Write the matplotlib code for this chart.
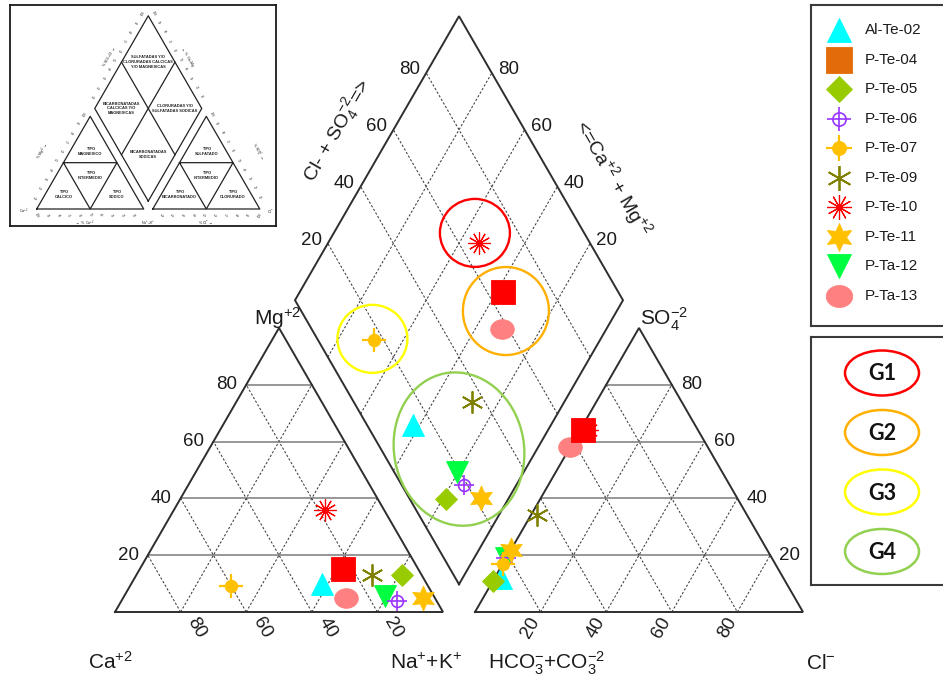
import numpy as np
import matplotlib
matplotlib.use("Agg")
import matplotlib.pyplot as plt
from matplotlib.patches import Ellipse

plt.rcParams['font.family'] = ['Liberation Sans', 'DejaVu Sans']
plt.rcParams['mathtext.fontset'] = 'custom'
plt.rcParams['mathtext.rm'] = 'Liberation Sans'
plt.rcParams['mathtext.it'] = 'Liberation Sans:italic'
plt.rcParams['mathtext.bf'] = 'Liberation Sans:bold'

# ---------------- data (meq %) ----------------
samples = ['Al-Te-02', 'P-Te-04', 'P-Te-05', 'P-Te-06', 'P-Te-07',
           'P-Te-09', 'P-Te-10', 'P-Te-11', 'P-Ta-12', 'P-Ta-13']
ca_pct = [32, 23, 6, 12, 60, 15, 18, 3.5, 15, 27]
mg_pct = [10, 15, 13, 4, 9, 13, 36, 5, 5.5, 5]
nak_pct = [58, 62, 81, 84, 31, 72, 46, 91.5, 79.5, 68]
cl_pct = [2, 1, 0, 0, 0, 2, 2, 0, 0, 0]
so4_pct = [12, 64, 11, 19, 17, 34, 64, 22, 19, 58]
hco3_pct = [86, 35, 89, 81, 83, 64, 34, 78, 81, 42]

# hydrochemical groups: centre given as (Cl+SO4 %, Ca+Mg %) in the diamond
group_names = ['G1', 'G2', 'G3', 'G4']
group_colors = ['#FF0000', '#FFB000', '#FFFF00', '#92D050']
group_anion = [66.7, 62.4, 16.8, 23.8]
group_cation = [57.0, 33.8, 69.6, 23.8]
group_width_px = [70, 86, 70, 130]
group_height_px = [68, 88, 68, 154]
group_angle = [0, 0, 0, 10]

tick_vals = [20, 40, 60, 80]

# ---------------- marker styles ----------------
theta = np.linspace(0, 2 * np.pi, 72)
ellipse_marker = np.column_stack([np.cos(theta), 0.83 * np.sin(theta)])


def solid(marker, ms, color, mew=0.6):
    return dict(marker=marker, ms=ms, mfc=color, mec=color, mew=mew)


def line_mk(marker, ms, color, mew):
    return dict(marker=marker, ms=ms, mfc='none', mec=color, mew=mew)


styles = {
    'Al-Te-02': [solid('^', 16, '#00FFFF')],
    'P-Te-04': [solid('s', 17, '#FF0000')],
    'P-Te-05': [solid('D', 11.5, '#99CC00')],
    'P-Te-06': [line_mk('o', 8.5, '#9933FF', 1.2), line_mk('+', 15, '#9933FF', 1.2)],
    'P-Te-07': [solid('o', 9, '#FFC000'), line_mk('+', 17, '#FFC000', 1.6)],
    'P-Te-09': [line_mk((6, 2, 0), 16, '#808000', 1.3)],
    'P-Te-10': [line_mk((12, 2, 0), 16, '#FF0000', 0.85)],
    'P-Te-11': [solid((6, 1, 0), 18, '#FFC000')],
    'P-Ta-12': [solid('v', 16, '#00FF40')],
    'P-Ta-13': [solid(ellipse_marker, 17, '#FF8080')],
}
legend_color_override = {'P-Te-04': '#E36C0A'}
draw_order = ['P-Ta-12', 'P-Ta-13', 'Al-Te-02', 'P-Te-04', 'P-Te-05',
              'P-Te-06', 'P-Te-07', 'P-Te-09', 'P-Te-10', 'P-Te-11']

# ---------------- geometry ----------------
W, H = 943, 675
S = 328.0                 # triangle side in pixels
X0, Y0 = 115.0, 612.0     # pixel position of the Ca+2 corner
PX = 1.0 / S
H3 = np.sqrt(3) / 2
GAP = 32.0 / S
OFF = 1 + GAP
BX, BY = 1 + GAP / 2, GAP * H3


def cat_xy(ca, mg, na):
    t = ca + mg + na
    return (na + 0.5 * mg) / t, H3 * mg / t


def an_xy(cl, so4, hco3):
    t = cl + so4 + hco3
    return OFF + (cl + 0.5 * so4) / t, H3 * so4 / t


def dia_xy(a, c):
    return BX + 0.5 * (a - c), BY + H3 * (a + c)


def px2d(xp, yp):
    return (xp - X0) / S, (Y0 - yp) / S


fig = plt.figure(figsize=(W / 100, H / 100), dpi=100)
fig.patch.set_facecolor('white')
ax = fig.add_axes([0, 0, 1, 1])
ax.set_xlim(-X0 / S, (W - X0) / S)
ax.set_ylim((Y0 - H) / S, Y0 / S)
ax.axis('off')

OUT = dict(color='#2e2e2e', lw=1.4, solid_joinstyle='miter', zorder=2)
HGRID = dict(color='#7a7a7a', lw=1.1, zorder=1)
DGRID = dict(color='#3c3c3c', lw=0.75, ls=(0, (2.2, 1.8)), zorder=1)
TXT = dict(fontsize=13.5, color='#1c1c1c')


def seg(p, q, **kw):
    ax.plot([p[0], q[0]], [p[1], q[1]], **kw)


# outlines
tri_l = [cat_xy(100, 0, 0), cat_xy(0, 0, 100), cat_xy(0, 100, 0), cat_xy(100, 0, 0)]
tri_r = [an_xy(0, 0, 100), an_xy(100, 0, 0), an_xy(0, 100, 0), an_xy(0, 0, 100)]
dia = [dia_xy(0, 0), dia_xy(1, 0), dia_xy(1, 1), dia_xy(0, 1), dia_xy(0, 0)]
for poly in (tri_l, tri_r, dia):
    xs, ys = zip(*poly)
    ax.plot(xs, ys, **OUT)

# grids
for k in tick_vals:
    seg(cat_xy(100 - k, k, 0), cat_xy(0, k, 100 - k), **HGRID)
    seg(cat_xy(k, 0, 100 - k), cat_xy(k, 100 - k, 0), **DGRID)
    seg(cat_xy(100 - k, 0, k), cat_xy(0, 100 - k, k), **DGRID)
    seg(an_xy(0, k, 100 - k), an_xy(100 - k, k, 0), **HGRID)
    seg(an_xy(k, 0, 100 - k), an_xy(k, 100 - k, 0), **DGRID)
    seg(an_xy(0, 100 - k, k), an_xy(100 - k, 0, k), **DGRID)
    f = k / 100
    seg(dia_xy(f, 0), dia_xy(f, 1), **DGRID)
    seg(dia_xy(0, f), dia_xy(1, f), **DGRID)

# tick labels
for k in tick_vals:
    f = k / 100
    x, y = cat_xy(100 - k, k, 0)
    ax.text(x - 9 * PX, y, str(k), ha='right', va='center', **TXT)
    x, y = cat_xy(k, 0, 100 - k)
    ax.text(x + 16 * PX, y - 16 * PX, str(k), ha='center', va='center',
            rotation=-60, rotation_mode='anchor', **TXT)
    x, y = an_xy(k, 0, 100 - k)
    ax.text(x - 10 * PX, y - 16 * PX, str(k), ha='center', va='center',
            rotation=60, rotation_mode='anchor', **TXT)
    x, y = an_xy(100 - k, k, 0)
    ax.text(x + 9 * PX, y, str(k), ha='left', va='center', **TXT)
    x, y = dia_xy(f, 1)
    ax.text(x - 6 * PX, y + 3 * PX, str(k), ha='right', va='center', **TXT)
    x, y = dia_xy(1, f)
    ax.text(x + 6 * PX, y + 3 * PX, str(k), ha='left', va='center', **TXT)

# axis titles
LAB = dict(fontsize=15, color='#1c1c1c')
ax.text(*px2d(278, 325), r'Mg$^{+2}$', ha='center', va='baseline', **LAB)
ax.text(*px2d(640, 325), r'SO$_4^{-2}$', ha='left', va='baseline', **LAB)
ax.text(*px2d(88, 669), r'Ca$^{+2}$', ha='left', va='baseline', **LAB)
ax.text(*px2d(390, 669), r'Na$^{+}$+K$^{+}$', ha='left', va='baseline', **LAB)
ax.text(*px2d(488, 669), r'HCO$_3^{-}$+CO$_3^{-2}$', ha='left', va='baseline', **LAB)
ax.text(*px2d(806, 669), r'Cl$^{-}$', ha='left', va='baseline', **LAB)

x, y = dia_xy(0.6, 1)
ax.text(x - 56 * PX, y, r'Cl- + SO$_4^{-2}$=>', ha='center', va='center',
        rotation=60, rotation_mode='anchor', fontsize=14, color='#1c1c1c')
x, y = dia_xy(1, 0.43)
ax.text(x + 60 * PX, y, r'<=Ca$^{+2}$ + Mg$^{+2}$', ha='center', va='center',
        rotation=-60, rotation_mode='anchor', fontsize=14, color='#1c1c1c')

# group outlines in the diamond
for name, col, ga, gc, gw, gh, ang in zip(group_names, group_colors, group_anion,
                                          group_cation, group_width_px,
                                          group_height_px, group_angle):
    cx, cy = dia_xy(ga / 100, gc / 100)
    ax.add_patch(Ellipse((cx, cy), gw * PX, gh * PX, angle=ang, fill=False,
                         ec=col, lw=1.7, zorder=3))


def draw_marker(axis, x, y, layers, scale=1.0, color=None, z=5):
    for L in layers:
        mfc = L['mfc'] if (color is None or L['mfc'] == 'none') else color
        mec = L['mec'] if color is None else color
        axis.plot([x], [y], ls='none', marker=L['marker'], ms=L['ms'] * scale,
                  mfc=mfc, mec=mec, mew=L['mew'], zorder=z)


idx = {s: i for i, s in enumerate(samples)}
for s in draw_order:
    i = idx[s]
    ca, mg, na = ca_pct[i], mg_pct[i], nak_pct[i]
    cl, so4, hc = cl_pct[i], so4_pct[i], hco3_pct[i]
    draw_marker(ax, *cat_xy(ca, mg, na), styles[s])
    draw_marker(ax, *an_xy(cl, so4, hc), styles[s])
    a = (cl + so4) / (cl + so4 + hc)
    c = (ca + mg) / (ca + mg + na)
    draw_marker(ax, *dia_xy(a, c), styles[s])


# ---------------- legend boxes ----------------
def px_axes(l, t, r, b):
    a = fig.add_axes([l / W, 1 - b / H, (r - l) / W, (b - t) / H])
    a.set_xlim(l, r)
    a.set_ylim(b, t)
    a.set_xticks([])
    a.set_yticks([])
    for sp in a.spines.values():
        sp.set_color('#3a3a3a')
        sp.set_linewidth(1.5)
    return a


leg1 = px_axes(811, 5, 955, 326)
for i, s in enumerate(samples):
    yy = 30 + 29.5 * i
    draw_marker(leg1, 839, yy, styles[s], scale=1.12,
                color=legend_color_override.get(s))
    leg1.text(865, yy, s, ha='left', va='center', fontsize=11, color='#1c1c1c')

leg2 = px_axes(811, 337, 955, 585)
for i, (name, col) in enumerate(zip(group_names, group_colors)):
    yy = 373 + 59.5 * i
    leg2.add_patch(Ellipse((882, yy), 74, 45, fill=False, ec=col, lw=1.8))
    leg2.text(882, yy + 1, name, ha='center', va='center', fontsize=15.5,
              fontweight='bold', family=['Lato', 'DejaVu Sans'], color='#111111')

# ---------------- classification inset ----------------
ins = fig.add_axes([10 / W, 1 - 226 / H, 266 / W, 221 / H])
si = 107.0
oxi, oyi = 36.7, 209.0
ins.set_xlim(-(oxi - 10) / si, (276 - oxi) / si)
ins.set_ylim(-(226 - oyi) / si, (oyi - 5) / si)
ins.set_xticks([])
ins.set_yticks([])
for sp in ins.spines.values():
    sp.set_color('#1a1a1a')
    sp.set_linewidth(1.3)

gi = 0.085
offi = 1 + gi
bxi, byi = 1 + gi / 2, gi * H3


def dia_i(a, c):
    return bxi + 0.5 * (a - c), byi + H3 * (a + c)


ILN = dict(color='#222222', lw=0.9)
for poly in ([(0, 0), (1, 0), (0.5, H3), (0, 0)],
             [(offi, 0), (offi + 1, 0), (offi + 0.5, H3), (offi, 0)],
             [dia_i(0, 0), dia_i(1, 0), dia_i(1, 1), dia_i(0, 1), dia_i(0, 0)],
             [(0.25, H3 / 2), (0.75, H3 / 2), (0.5, 0), (0.25, H3 / 2)],
             [(offi + 0.25, H3 / 2), (offi + 0.75, H3 / 2), (offi + 0.5, 0),
              (offi + 0.25, H3 / 2)],
             [dia_i(0.5, 0), dia_i(0.5, 1)],
             [dia_i(0, 0.5), dia_i(1, 0.5)]):
    xs, ys = zip(*poly)
    ins.plot(xs, ys, **ILN)

RT = dict(fontsize=2.9, ha='center', va='center', color='#222222',
          linespacing=1.3, fontweight='bold')
ins.text(*dia_i(0.75, 0.75), 'SULFATADAS Y/O\nCLORURADAS CALCICAS\nY/O MAGNESICAS', **RT)
ins.text(*dia_i(0.25, 0.75), 'BICARBONATADAS\nCALCICAS Y/O\nMAGNESICAS', **RT)
ins.text(*dia_i(0.75, 0.25), 'CLORURADAS Y/O\nSULFATADAS SODICAS', **RT)
ins.text(*dia_i(0.25, 0.25), 'BICARBONATADAS\nSODICAS', **RT)
for ox, names in ((0, ('TIPO\nMAGNESICO', 'TIPO\nINTERMEDIO', 'TIPO\nCALCICO', 'TIPO\nSODICO')),
                  (offi, ('TIPO\nSULFATADO', 'TIPO\nINTERMEDIO', 'TIPO\nBICARBONATADO',
                          'TIPO\nCLORURADO'))):
    ins.text(ox + 0.5, H3 * 0.62, names[0], **RT)
    ins.text(ox + 0.5, H3 * 0.36, names[1], **RT)
    ins.text(ox + 0.25, H3 * 0.16, names[2], **RT)
    ins.text(ox + 0.75, H3 * 0.16, names[3], **RT)

TK = dict(fontsize=2.2, color='#333333', ha='center', va='center')
for k in range(10, 101, 10):
    f = k / 100
    ins.text(0.5 * f - 0.05, H3 * f + 0.02, str(k), rotation=60, **TK)
    ins.text(1 - f, -0.06, str(k), rotation=-60, **TK)
    ins.text(offi + f, -0.06, str(k), rotation=60, **TK)
    ins.text(offi + 1 - 0.5 * f + 0.05, H3 * f + 0.02, str(k), rotation=-60, **TK)
    xk, yk = dia_i(f, 1)
    ins.text(xk - 0.05, yk + 0.02, str(k), rotation=60, **TK)
    xk, yk = dia_i(1, f)
    ins.text(xk + 0.05, yk + 0.02, str(k), rotation=-60, **TK)

IL = dict(fontsize=2.6, color='#222222', ha='center', va='center')
ins.text(0.06, H3 * 0.62, r'% Mg$^{+2}$ $\rightarrow$', rotation=60, **IL)
ins.text(0.45, -0.13, r'$\leftarrow$ % Ca$^{+2}$', **IL)
ins.text(-0.12, -0.02, r'Ca$^{+2}$', **IL)
ins.text(1.04, -0.13, r'Na$^{+}$+K$^{+}$', **IL)
ins.text(offi + 0.5, -0.13, r'% Cl$^{-}$ $\rightarrow$', **IL)
ins.text(offi + 1.1, -0.02, r'Cl$^{-}$', **IL)
ins.text(offi + 0.98, H3 * 0.62, r'% SO$_4^{-2}$ $\rightarrow$', rotation=-60, **IL)
xk, yk = dia_i(0.55, 1)
ins.text(xk - 0.14, yk, r'% SO$_4$+Cl $\rightarrow$', rotation=60, **IL)
xk, yk = dia_i(1, 0.55)
ins.text(xk + 0.14, yk, r'$\leftarrow$ % Ca+Mg', rotation=-60, **IL)

fig.savefig('out.png', dpi=100, facecolor='white')
